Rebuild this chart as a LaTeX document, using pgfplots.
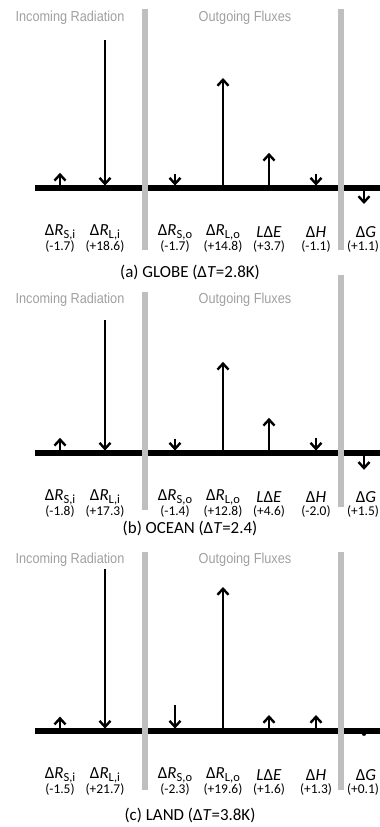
\documentclass[border=0pt]{standalone}
\usepackage{fontspec}
\setmainfont{Carlito}
\newfontfamily\hdr[FakeStretch=0.88]{Liberation Sans}
\usepackage{pgfplots}
\pgfplotsset{compat=1.18}
\usetikzlibrary{arrows.meta}
\definecolor{bargray}{HTML}{BFBFBF}
\definecolor{hdrgray}{HTML}{A0A0A0}
\newcommand{\sym}[1]{{\fontsize{17}{17}\selectfont #1}}
\newcommand{\sub}[1]{\raisebox{-2.8bp}{\fontsize{12.5}{13}\selectfont #1}}
\newcommand{\val}[1]{{\fontsize{13.5}{14}\selectfont #1}}
\newcommand{\hd}[1]{{\hdr\fontsize{14.5}{15}\selectfont\color{hdrgray}#1}}
\newcommand{\capt}[1]{{\fontsize{17}{18}\selectfont #1}}
\pgfplotsset{
  panel/.style={x=1bp, y=8bp, xmin=0, xmax=380, ymin=-11, ymax=23.5,
    hide axis, clip=false, anchor=origin},
  arr/.style={-{Straight Barb[length=6bp, width=11bp]}, line width=2.4bp, black},
  gbar/.style={draw=none, fill=bargray},
}
\newcommand{\fluxlabels}[7]{%
  \node at (axis cs:60,-5.5)  {\sym{Δ\textit{R}\sub{S,i}}};
  \node at (axis cs:105,-5.5) {\sym{Δ\textit{R}\sub{L,i}}};
  \node at (axis cs:175,-5.5) {\sym{Δ\textit{R}\sub{S,o}}};
  \node at (axis cs:223,-5.5) {\sym{Δ\textit{R}\sub{L,o}}};
  \node at (axis cs:269,-5.5) {\sym{\textit{L}Δ\textit{E}}};
  \node at (axis cs:316,-5.5) {\sym{Δ\textit{H}}};
  \node at (axis cs:366,-5.5) {\sym{Δ\textit{G}}};
  \node at (axis cs:60,-7.3)  {\val{#1}};
  \node at (axis cs:105,-7.3) {\val{#2}};
  \node at (axis cs:175,-7.3) {\val{#3}};
  \node at (axis cs:223,-7.3) {\val{#4}};
  \node at (axis cs:269,-7.3) {\val{#5}};
  \node at (axis cs:316,-7.3) {\val{#6}};
  \node at (axis cs:363,-7.3) {\val{#7}};
}
\begin{document}
\begin{tikzpicture}
\useasboundingbox (0,0) rectangle (380bp,827bp);
% ---------------- (a) GLOBE
\begin{axis}[panel, at={(0bp,639bp)}]
\addplot[line width=5.5bp] coordinates {(35,0) (380,0)};
\addplot[gbar] coordinates {(142,-7.75) (147.5,-7.75) (147.5,22.4) (142,22.4)} -- cycle;
\addplot[gbar] coordinates {(337.5,-7.75) (343.5,-7.75) (343.5,22.4) (337.5,22.4)} -- cycle;
\addplot[arr] coordinates {(60,0.3) (60,1.9)};
\addplot[arr] coordinates {(105,18.5) (105,0.3)};
\addplot[arr] coordinates {(175,1.8) (175,0.3)};
\addplot[arr] coordinates {(223,0.3) (223,13.75)};
\addplot[arr] coordinates {(269,0.3) (269,4.4)};
\addplot[arr] coordinates {(316,1.8) (316,0.3)};
\addplot[arr] coordinates {(364,-0.3) (364,-2.0)};
\node at (axis cs:70,21.25) {\hd{Incoming Radiation}};
\node at (axis cs:245,21.25) {\hd{Outgoing Fluxes}};
\fluxlabels{(-1.7)}{(+18.6)}{(-1.7)}{(+14.8)}{(+3.7)}{(-1.1)}{(+1.1)}
\node at (axis cs:190,-10.6) {\capt{(a) GLOBE (Δ\textit{T}=2.8K)}};
\end{axis}
% ---------------- (b) OCEAN
\begin{axis}[panel, at={(0bp,374bp)}]
\addplot[line width=5.5bp] coordinates {(35,0) (380,0)};
\addplot[gbar] coordinates {(142,-7.1) (147.5,-7.1) (147.5,20.1) (142,20.1)} -- cycle;
\addplot[gbar] coordinates {(337.5,-6.75) (343.5,-6.75) (343.5,22.25) (337.5,22.25)} -- cycle;
\addplot[arr] coordinates {(60,0.3) (60,1.9)};
\addplot[arr] coordinates {(105,16.6) (105,0.3)};
\addplot[arr] coordinates {(175,1.8) (175,0.3)};
\addplot[arr] coordinates {(223,0.3) (223,11.4)};
\addplot[arr] coordinates {(269,0.3) (269,4.4)};
\addplot[arr] coordinates {(316,1.9) (316,0.3)};
\addplot[arr] coordinates {(364,-0.3) (364,-2.1)};
\node at (axis cs:70,19.1) {\hd{Incoming Radiation}};
\node at (axis cs:245,19.1) {\hd{Outgoing Fluxes}};
\fluxlabels{(-1.8)}{(+17.3)}{(-1.4)}{(+12.8)}{(+4.6)}{(-2.0)}{(+1.5)}
\node at (axis cs:190,-9.4) {\capt{(b) OCEAN (Δ\textit{T}=2.4)}};
\end{axis}
% ---------------- (c) LAND
\begin{axis}[panel, at={(0bp,96bp)}]
\addplot[line width=5.5bp] coordinates {(35,0) (380,0)};
\addplot[gbar] coordinates {(142,-7.4) (147.5,-7.4) (147.5,22.4) (142,22.4)} -- cycle;
\addplot[gbar] coordinates {(337.5,-7.4) (343.5,-7.4) (343.5,22.4) (337.5,22.4)} -- cycle;
\addplot[arr] coordinates {(60,0.3) (60,1.8)};
\addplot[arr] coordinates {(105,20.25) (105,0.3)};
\addplot[arr] coordinates {(175,3.2) (175,0.3)};
\addplot[arr] coordinates {(223,0.3) (223,18)};
\addplot[arr] coordinates {(269,0.3) (269,2.0)};
\addplot[arr] coordinates {(316,0.3) (316,2.0)};
\addplot[only marks, mark=*, mark size=2.2bp, black] coordinates {(364,-0.3)};
\node at (axis cs:70,21.4) {\hd{Incoming Radiation}};
\node at (axis cs:245,21.4) {\hd{Outgoing Fluxes}};
\fluxlabels{(-1.5)}{(+21.7)}{(-2.3)}{(+19.6)}{(+1.6)}{(+1.3)}{(+0.1)}
\node at (axis cs:190,-10.5) {\capt{(c) LAND (Δ\textit{T}=3.8K)}};
\end{axis}
\end{tikzpicture}
\end{document}
